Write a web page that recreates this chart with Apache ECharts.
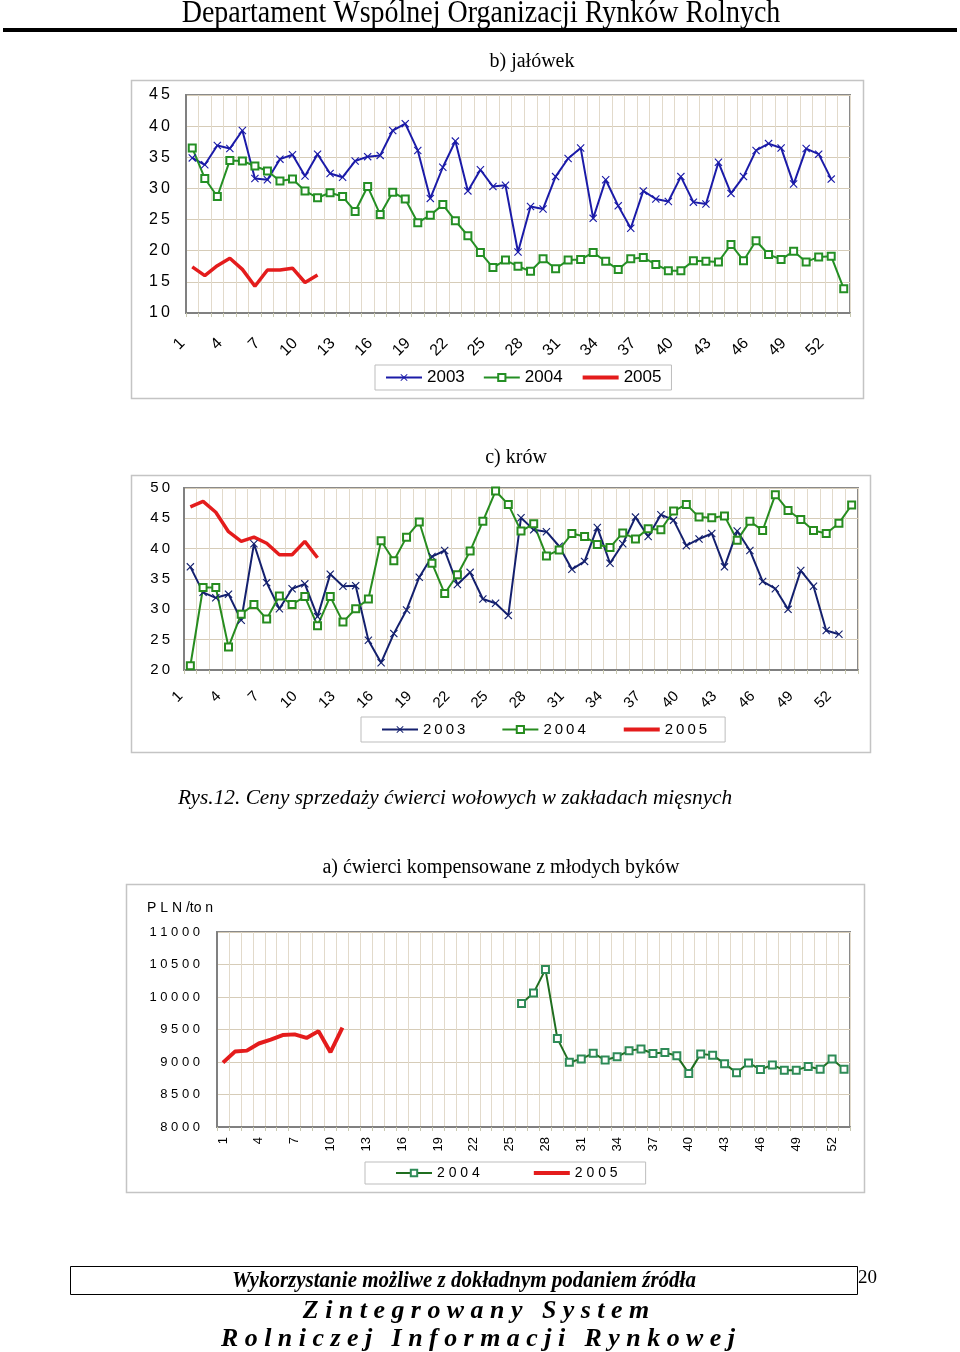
<!DOCTYPE html>
<html>
<head>
<meta charset="utf-8">
<script src="https://cdn.jsdelivr.net/npm/echarts@6/dist/echarts.min.js"></script>
<style>
html,body{margin:0;padding:0;background:#fff;}
#c{width:960px;height:1352px;}
</style>
</head>
<body>
<div id="c"></div>
<script>
// ---- data ----
const weeks = [];
for (let i = 1; i <= 53; i++) weeks.push(String(i));

// b) jałówek
const jalowki2003 = [34.9,33.8,36.9,36.4,39.3,31.6,31.4,34.7,35.4,32.0,35.5,32.4,31.8,34.4,35.1,35.3,39.3,40.4,36.1,28.4,33.4,37.6,29.6,33.0,30.3,30.5,19.8,27.1,26.7,31.9,34.8,36.5,25.2,31.4,27.2,23.6,29.6,28.3,27.9,31.9,27.8,27.5,34.2,29.2,31.9,36.1,37.2,36.5,30.7,36.4,35.5,31.5,null];
const jalowki2004 = [36.5,31.6,28.7,34.5,34.4,33.6,32.8,31.2,31.5,29.6,28.5,29.3,28.7,26.3,30.3,25.8,29.4,28.3,24.5,25.7,27.4,24.8,22.4,19.7,17.3,18.5,17.5,16.7,18.7,17.1,18.5,18.6,19.7,18.3,17.0,18.7,18.9,17.8,16.8,16.8,18.4,18.3,18.2,21.0,18.4,21.6,19.4,18.6,19.9,18.2,19.0,19.1,13.9];
const jalowki2005 = [17.4,16.0,17.6,18.8,17.0,14.3,16.9,16.9,17.2,14.9,16.1];

// c) krów
const krowy2003 = [37.0,32.8,31.9,32.5,28.2,40.8,34.4,30.1,33.4,34.2,28.8,35.8,33.8,33.9,24.9,21.2,26.0,29.9,35.3,38.7,39.7,34.1,36.1,31.7,31.0,29.0,45.1,43.1,42.8,40.4,36.6,37.9,43.5,37.6,40.8,45.2,42.0,45.6,44.7,40.5,41.6,42.5,37.0,42.9,39.7,34.6,33.4,30.0,36.4,33.8,26.5,25.9,null];
const krowy2004 = [20.7,33.6,33.6,23.8,29.2,30.8,28.4,32.2,30.8,32.1,27.3,32.1,27.9,30.1,31.7,41.3,38.0,41.9,44.4,37.6,32.6,35.7,39.6,44.5,49.5,47.3,42.9,44.1,38.8,39.8,42.5,42.0,40.7,40.2,42.6,41.6,43.3,43.1,46.2,47.3,45.2,45.1,45.4,41.4,44.5,43.0,48.9,46.3,44.8,43.0,42.5,44.2,47.2];
const krowy2005 = [46.9,47.8,46.0,42.8,41.2,41.9,40.9,39.0,39.0,41.2,38.5];

// a) ćwierci kompensowane z młodych byków (PLN/ton)
const byki2004 = [null,null,null,null,null,null,null,null,null,null,null,null,null,null,null,null,null,null,null,null,null,null,null,null,null,
  9900,10060,10425,9360,8995,9045,9135,9030,9080,9175,9200,9130,9145,9095,8825,9125,9105,8975,8835,8985,8885,8955,8875,8875,8930,8890,9045,8890];
const byki2005 = [8990,9160,9175,9285,9345,9415,9425,9370,9475,9150,9530];

// ---- chart ----
const chart = echarts.init(document.getElementById('c'), null, {renderer: 'canvas'});

const SANS = 'Liberation Sans, Arial, sans-serif';
const SERIF = 'Liberation Serif, Times New Roman, serif';
const sp = (s, ch) => String(s).split('').join(ch);
const XMARK = 'path://M0,1L1,0L5,4L9,0L10,1L6,5L10,9L9,10L5,6L1,10L0,9L4,5Z';
const gridLineH = '#d6ccb8';
const gridLineV = '#e2dacb';
const HIDE = {color: 'rgba(0,0,0,0)', borderColor: 'rgba(0,0,0,0)', borderWidth: 0};
const RED_LEG = {color: '#e41c1c', width: 4};

function xAxis(gi, margin, rotate, fs, pad) {
  return {
    type: 'category', gridIndex: gi, data: weeks, boundaryGap: true,
    axisLine: {lineStyle: {color: '#808080', width: 2}},
    axisTick: {show: true, interval: 0, length: 4, lineStyle: {color: '#c8c8b0'}},
    axisLabel: {interval: 2, rotate: rotate, margin: margin, color: '#000', fontFamily: SANS, fontSize: fs, padding: pad},
    splitLine: {show: true, interval: 0, lineStyle: {color: gridLineV, width: 1}}
  };
}
function yAxis(gi, min, max, step, margin, fs, spacer) {
  return {
    type: 'value', gridIndex: gi, min: min, max: max, interval: step,
    axisLine: {show: true, lineStyle: {color: '#808080', width: 2}},
    axisTick: {show: false},
    axisLabel: {margin: margin, color: '#000', fontFamily: SANS, fontSize: fs,
      formatter: v => sp(v, spacer)},
    splitLine: {show: true, lineStyle: {color: gridLineH, width: 1}}
  };
}

const option = {
  backgroundColor: '#fff',
  animation: false,
  grid: [
    {left: 186, top: 95, width: 664, height: 218, show: true, backgroundColor: '#fff', borderColor: '#8a8a8a', borderWidth: 2},
    {left: 184, top: 488, width: 674, height: 182, show: true, backgroundColor: '#fff', borderColor: '#8a8a8a', borderWidth: 2},
    {left: 217, top: 932, width: 633, height: 195, show: true, backgroundColor: '#fff', borderColor: '#8a8a8a', borderWidth: 2}
  ],
  xAxis: [xAxis(0, 18, 45, 16, [0, 14, 0, 0]), xAxis(1, 14, 45, 15, [0, 14, 0, 0]), xAxis(2, 10, 90, 13, 0)],
  yAxis: [yAxis(0, 10, 45, 5, 16, 16, '\u2009'), yAxis(1, 20, 50, 5, 14, 15, '\u2009'), yAxis(2, 8000, 11000, 500, 17, 13, ' ')],
  legend: [
    {left: 375, top: 365, itemGap: 18, itemWidth: 36, itemHeight: 9,
     borderColor: '#bdbdbd', borderWidth: 1, padding: [4, 10, 4, 10], backgroundColor: '#fff',
     data: ['b2003', 'b2004', {name: 'b2005', itemStyle: HIDE, lineStyle: RED_LEG}], formatter: n => n.slice(1),
     textStyle: {fontFamily: SANS, fontSize: 17, color: '#000'}},
    {left: 361, top: 717, itemGap: 36, itemWidth: 36, itemHeight: 9,
     borderColor: '#bdbdbd', borderWidth: 1, padding: [5, 18, 5, 20], backgroundColor: '#fff',
     data: ['c2003', 'c2004', {name: 'c2005', itemStyle: HIDE, lineStyle: RED_LEG}], formatter: n => sp(n.slice(1), '\u2009'),
     textStyle: {fontFamily: SANS, fontSize: 15, color: '#000'}},
    {left: 365, top: 1162, itemGap: 52, itemWidth: 36, itemHeight: 8,
     borderColor: '#bdbdbd', borderWidth: 1, padding: [4, 28, 4, 30], backgroundColor: '#fff',
     data: ['a2004', {name: 'a2005', itemStyle: HIDE, lineStyle: RED_LEG}], formatter: n => sp(n.slice(1), ' '),
     textStyle: {fontFamily: SANS, fontSize: 14, color: '#000'}}
  ],
  series: [
    {name: 'b2003', type: 'line', xAxisIndex: 0, yAxisIndex: 0, data: jalowki2003,
     symbol: XMARK, symbolSize: 8, lineStyle: {color: '#1b1ba8', width: 2}, itemStyle: {color: '#1b1ba8'}},
    {name: 'b2004', type: 'line', xAxisIndex: 0, yAxisIndex: 0, data: jalowki2004,
     symbol: 'emptyRect', symbolSize: 7, lineStyle: {color: '#248f24', width: 2}, itemStyle: {color: '#248f24', borderWidth: 1.5}},
    {name: 'b2005', type: 'line', xAxisIndex: 0, yAxisIndex: 0, data: jalowki2005,
     symbol: 'none', lineStyle: {color: '#e41c1c', width: 3.5}, itemStyle: {color: '#e41c1c'}},

    {name: 'c2003', type: 'line', xAxisIndex: 1, yAxisIndex: 1, data: krowy2003,
     symbol: XMARK, symbolSize: 8, lineStyle: {color: '#14206e', width: 2}, itemStyle: {color: '#14206e'}},
    {name: 'c2004', type: 'line', xAxisIndex: 1, yAxisIndex: 1, data: krowy2004,
     symbol: 'emptyRect', symbolSize: 7, lineStyle: {color: '#278c1f', width: 2}, itemStyle: {color: '#278c1f', borderWidth: 1.5}},
    {name: 'c2005', type: 'line', xAxisIndex: 1, yAxisIndex: 1, data: krowy2005,
     symbol: 'none', lineStyle: {color: '#e41c1c', width: 3.5}, itemStyle: {color: '#e41c1c'}},

    {name: 'a2004', type: 'line', xAxisIndex: 2, yAxisIndex: 2, data: byki2004,
     symbol: 'emptyRect', symbolSize: 7, lineStyle: {color: '#1f6e1f', width: 2}, itemStyle: {color: '#2e8b57', borderWidth: 1.5}},
    {name: 'a2005', type: 'line', xAxisIndex: 2, yAxisIndex: 2, data: byki2005,
     symbol: 'none', lineStyle: {color: '#e41c1c', width: 4}, itemStyle: {color: '#e41c1c'}}
  ],
  graphic: [
    {type: 'text', x: 481, y: 14, scaleY: 1.12, style: {text: 'Departament Wspólnej Organizacji Rynków Rolnych', font: '28px ' + SERIF, fill: '#000', align: 'center', verticalAlign: 'middle'}},
    {type: 'rect', shape: {x: 3, y: 28, width: 954, height: 4}, style: {fill: '#000'}},

    {type: 'text', x: 532, y: 62, style: {text: 'b) jałówek', font: '20px ' + SERIF, fill: '#000', align: 'center', verticalAlign: 'middle'}},
    {type: 'rect', z: -1, shape: {x: 131.5, y: 80.5, width: 732, height: 318}, style: {fill: 'none', stroke: '#c4c4c4', lineWidth: 1.5}},

    {type: 'text', x: 516, y: 458, style: {text: 'c) krów', font: '20px ' + SERIF, fill: '#000', align: 'center', verticalAlign: 'middle'}},
    {type: 'rect', z: -1, shape: {x: 131.5, y: 475.5, width: 739, height: 277}, style: {fill: 'none', stroke: '#c4c4c4', lineWidth: 1.5}},

    {type: 'text', x: 178, y: 798, style: {text: 'Rys.12. Ceny sprzedaży ćwierci wołowych w zakładach mięsnych', font: 'italic 21.3px ' + SERIF, fill: '#000', align: 'left', verticalAlign: 'middle'}},

    {type: 'text', x: 501, y: 868, style: {text: 'a) ćwierci kompensowane z młodych byków', font: '20px ' + SERIF, fill: '#000', align: 'center', verticalAlign: 'middle'}},
    {type: 'rect', z: -1, shape: {x: 126.5, y: 884.5, width: 738, height: 308}, style: {fill: 'none', stroke: '#c4c4c4', lineWidth: 1.5}},
    {type: 'text', x: 147, y: 908, style: {text: 'P L N /to n', font: '14px ' + SANS, fill: '#000', align: 'left', verticalAlign: 'middle'}},

    {type: 'rect', shape: {x: 70.5, y: 1266.5, width: 787, height: 28}, style: {fill: 'none', stroke: '#000', lineWidth: 1}},
    {type: 'text', x: 464, y: 1281, scaleY: 1.12, style: {text: 'Wykorzystanie możliwe z dokładnym podaniem źródła', font: 'italic bold 21px ' + SERIF, fill: '#000', align: 'center', verticalAlign: 'middle'}},
    {type: 'text', x: 858, y: 1278, style: {text: '20', font: '19px ' + SERIF, fill: '#000', align: 'left', verticalAlign: 'middle'}},
    {type: 'text', x: 476, y: 1311, scaleX: 1.08, scaleY: 1.05, style: {text: 'Z i n t e g r o w a n y   S y s t e m', font: 'italic bold 24px ' + SERIF, fill: '#000', align: 'center', verticalAlign: 'middle'}},
    {type: 'text', x: 478, y: 1339, scaleX: 1.08, scaleY: 1.05, style: {text: 'R o l n i c z e j   I n f o r m a c j i   R y n k o w e j', font: 'italic bold 24px ' + SERIF, fill: '#000', align: 'center', verticalAlign: 'middle'}}
  ]
};
chart.setOption(option);
</script>
</body>
</html>
